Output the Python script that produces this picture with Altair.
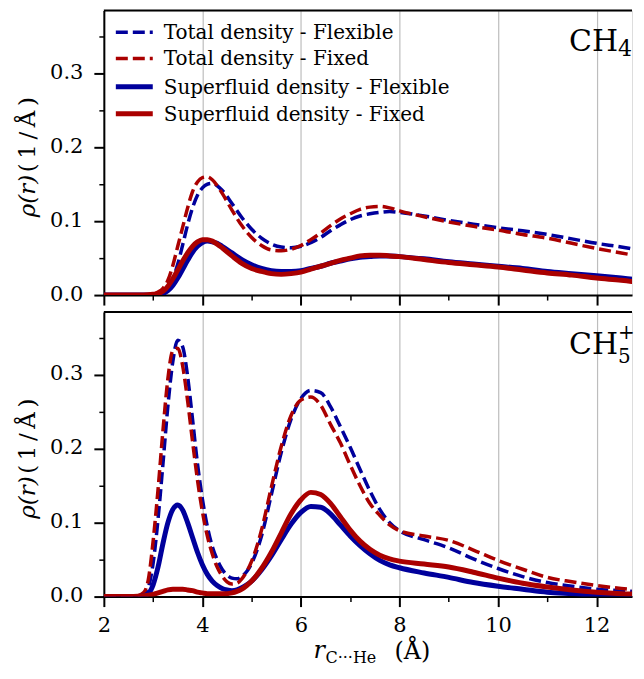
import altair as alt
import pandas as pd

# ---------------- data ----------------
x_ch4 = [2.0, 2.8, 3.0, 3.1, 3.2, 3.3, 3.4, 3.5, 3.6, 3.7, 3.8, 3.9, 4.0, 4.1, 4.2, 4.3, 4.4,
         4.6, 4.8, 5.0, 5.2, 5.4, 5.6, 5.8, 6.0, 6.2, 6.4, 6.6, 6.8, 7.0, 7.2, 7.4, 7.6, 7.8,
         8.0, 8.5, 9.0, 9.5, 10.0, 10.5, 11.0, 11.5, 12.0, 12.5, 13.0]
tot_flex_ch4 = [0, 0, 0, 0.001, 0.004, 0.010, 0.022, 0.042, 0.068, 0.095, 0.118, 0.135, 0.145,
                0.150, 0.151, 0.148, 0.142, 0.124, 0.105, 0.089, 0.077, 0.069, 0.065, 0.064,
                0.066, 0.071, 0.078, 0.087, 0.095, 0.102, 0.107, 0.110, 0.112, 0.113, 0.112,
                0.107, 0.101, 0.096, 0.091, 0.087, 0.082, 0.076, 0.070, 0.065, 0.059]
tot_fix_ch4 = [0, 0, 0.001, 0.004, 0.009, 0.020, 0.040, 0.066, 0.092, 0.118, 0.140, 0.153, 0.159,
               0.160, 0.156, 0.148, 0.138, 0.115, 0.094, 0.078, 0.067, 0.061, 0.060, 0.062,
               0.067, 0.075, 0.084, 0.094, 0.103, 0.110, 0.116, 0.119, 0.120, 0.118, 0.114,
               0.106, 0.099, 0.093, 0.088, 0.082, 0.077, 0.070, 0.063, 0.057, 0.051]
sf_flex_ch4 = [0, 0, 0, 0.0, 0.002, 0.006, 0.013, 0.023, 0.035, 0.047, 0.058, 0.066, 0.071,
               0.073, 0.072, 0.070, 0.066, 0.057, 0.048, 0.041, 0.036, 0.033, 0.032, 0.032,
               0.033, 0.036, 0.039, 0.043, 0.046, 0.049, 0.051, 0.052, 0.053, 0.053, 0.052,
               0.049, 0.045, 0.042, 0.039, 0.036, 0.032, 0.029, 0.026, 0.023, 0.020]
sf_fix_ch4 = [0, 0, 0.001, 0.002, 0.005, 0.012, 0.022, 0.034, 0.046, 0.057, 0.066, 0.072, 0.075,
              0.075, 0.073, 0.069, 0.064, 0.053, 0.043, 0.036, 0.032, 0.029, 0.028, 0.029,
              0.031, 0.035, 0.039, 0.043, 0.047, 0.050, 0.053, 0.054, 0.054, 0.053, 0.052,
              0.048, 0.044, 0.041, 0.038, 0.034, 0.030, 0.027, 0.023, 0.020, 0.016]

x_ch5 = [2.0, 2.6, 2.8, 2.9, 3.0, 3.1, 3.2, 3.3, 3.4, 3.5, 3.6, 3.7, 3.8, 3.9, 4.0, 4.1, 4.2,
         4.3, 4.4, 4.5, 4.6, 4.7, 4.8, 4.9, 5.0, 5.2, 5.4, 5.6, 5.8, 6.0, 6.2, 6.4, 6.6, 6.8,
         7.0, 7.2, 7.4, 7.6, 7.8, 8.0, 8.5, 9.0, 9.5, 10.0, 10.5, 11.0, 11.5, 12.0, 12.5, 13.0]
tot_flex_ch5 = [0, 0, 0.003, 0.012, 0.045, 0.105, 0.180, 0.258, 0.318, 0.347, 0.338, 0.298,
                0.240, 0.180, 0.132, 0.095, 0.068, 0.050, 0.037, 0.029, 0.025, 0.024, 0.027,
                0.034, 0.045, 0.082, 0.138, 0.195, 0.240, 0.268, 0.279, 0.276, 0.257, 0.230,
                0.202, 0.172, 0.143, 0.118, 0.100, 0.089, 0.077, 0.066, 0.051, 0.038, 0.027,
                0.019, 0.014, 0.010, 0.008, 0.006]
tot_fix_ch5 = [0, 0, 0.005, 0.022, 0.075, 0.145, 0.225, 0.295, 0.333, 0.336, 0.312, 0.265,
               0.210, 0.158, 0.115, 0.082, 0.058, 0.040, 0.028, 0.020, 0.017, 0.018, 0.024,
               0.034, 0.048, 0.090, 0.148, 0.203, 0.245, 0.266, 0.270, 0.259, 0.233, 0.208,
               0.178, 0.150, 0.126, 0.110, 0.097, 0.089, 0.082, 0.076, 0.063, 0.049, 0.037,
               0.026, 0.020, 0.015, 0.011, 0.008]
sf_flex_ch5 = [0, 0, 0.001, 0.004, 0.016, 0.040, 0.072, 0.100, 0.118, 0.124, 0.117, 0.100,
               0.080, 0.060, 0.043, 0.030, 0.021, 0.015, 0.011, 0.009, 0.008, 0.009, 0.012,
               0.016, 0.021, 0.036, 0.055, 0.077, 0.098, 0.114, 0.122, 0.121, 0.112, 0.097,
               0.082, 0.069, 0.058, 0.049, 0.043, 0.039, 0.032, 0.026, 0.019, 0.014, 0.010,
               0.006, 0.004, 0.002, 0.001, 0.001]
sf_fix_ch5 = [0, 0, 0.001, 0.002, 0.003, 0.005, 0.007, 0.009, 0.010, 0.010, 0.010, 0.009,
              0.008, 0.006, 0.005, 0.004, 0.004, 0.004, 0.004, 0.004, 0.005, 0.007, 0.010,
              0.015, 0.021, 0.038, 0.060, 0.086, 0.112, 0.131, 0.141, 0.138, 0.126, 0.108,
              0.090, 0.075, 0.064, 0.056, 0.051, 0.048, 0.044, 0.040, 0.033, 0.025, 0.018,
              0.013, 0.009, 0.006, 0.004, 0.003]

series_names = ["Total density - Flexible", "Total density - Fixed",
                "Superfluid density - Flexible", "Superfluid density - Fixed"]
x_major = [2, 4, 6, 8, 10, 12]
x_minor = [3, 5, 7, 9, 11]
y_major = [0.0, 0.1, 0.2, 0.3]
y_minor = [0.05, 0.15, 0.25, 0.35]

# ---------------- style ----------------
BLUE = "#00009c"
RED = "#aa0000"
colors = [BLUE, RED, BLUE, RED]
dashes = [[12, 5], [12, 5], None, None]
widths = [3.5, 3.5, 5, 5]
FONT = "DejaVu Serif"

W, H = 529, 285
PX_PER_UNIT = 49.35
XMAX = 2 + W / PX_PER_UNIT
xscale = alt.Scale(domain=[2, XMAX], nice=False, zero=False)
yscale = alt.Scale(domain=[0, 0.385], nice=False, zero=False)


def x_axis(labels):
    return alt.Axis(values=x_major, orient="bottom", labels=labels, ticks=True, tickSize=10,
                    tickWidth=2, tickColor="black", domain=True, domainColor="black",
                    domainWidth=2, grid=True, gridColor="#bdbdbd", gridWidth=1.2, title=None,
                    labelFont=FONT, labelFontSize=21, labelColor="black", labelPadding=8,
                    labelFlush=False, labelOverlap=False)


y_axis = alt.Axis(values=y_major, orient="left", format=".1f", ticks=True, tickSize=10,
                  tickWidth=2, tickColor="black", domain=True, domainColor="black",
                  domainWidth=2, grid=False, title=None, labelFont=FONT, labelFontSize=21,
                  labelColor="black", labelPadding=11, labelFlush=False, labelOffset=-1,
                  minExtent=54, maxExtent=54)

x_minor_axis = alt.Axis(values=x_minor, orient="bottom", labels=False, ticks=True,
                        tickSize=5, tickWidth=1.5, tickColor="black", domain=False,
                        grid=False, title=None)
y_minor_axis = alt.Axis(values=y_minor, orient="left", labels=False, ticks=True,
                        tickSize=5, tickWidth=1.5, tickColor="black", domain=False,
                        grid=False, title=None, minExtent=5, maxExtent=5)

one = alt.Data(values=[{}])


def text_at(txt, x, y, size, style="normal", align="left", baseline="alphabetic", angle=0):
    kw = dict(font=FONT, fontSize=size, fontStyle=style, align=align, baseline=baseline,
              color="black")
    if angle:
        kw["angle"] = angle
    return alt.Chart(one).mark_text(**kw).encode(
        x=alt.value(x), y=alt.value(y), text=alt.value(txt))


def panel(xs, ys_list, show_labels, extra):
    layers = []
    for i, (ys, c, d, w) in enumerate(zip(ys_list, colors, dashes, widths)):
        df = pd.DataFrame({"x": xs, "y": ys})
        mk = dict(color=c, strokeWidth=w, clip=True, interpolate="monotone")
        if d:
            mk["strokeDash"] = d
        if i == 0:
            X = alt.X("x:Q", scale=xscale, axis=x_axis(show_labels))
            Y = alt.Y("y:Q", scale=yscale, axis=y_axis)
        else:
            X = alt.X("x:Q", scale=xscale, axis=None)
            Y = alt.Y("y:Q", scale=yscale, axis=None)
        layers.append(alt.Chart(df).mark_line(**mk).encode(x=X, y=Y))
    # minor ticks as extra axes on the shared scales
    layers.append(alt.Chart(pd.DataFrame({"x": x_minor})).mark_point(opacity=0).encode(
        x=alt.X("x:Q", scale=xscale, axis=x_minor_axis)))
    layers.append(alt.Chart(pd.DataFrame({"y": y_minor})).mark_point(opacity=0).encode(
        y=alt.Y("y:Q", scale=yscale, axis=y_minor_axis)))
    # top spine
    layers.append(alt.Chart(one).mark_rule(color="black", strokeWidth=2).encode(
        x=alt.value(0), x2=alt.value(W), y=alt.value(0)))
    # y title
    layers.append(text_at("ρ(r)", -69, 207, 23, style="italic", angle=270))
    layers.append(text_at("(\u20091\u2009/\u2009Å\u2009)", -69, 162, 23, angle=270))
    layers += extra
    return alt.layer(*layers).resolve_axis(x="independent", y="independent").properties(
        width=W, height=H)


# legend in the top panel
legend_rows = [21.7, 48.0, 76.4, 103.4]
legend_layers = []
for name, c, d, w, ry in zip(series_names, colors, dashes, widths, legend_rows):
    mk = dict(color=c, strokeWidth=w)
    if d:
        mk["strokeDash"] = d
    legend_layers.append(alt.Chart(one).mark_rule(**mk).encode(
        x=alt.value(12), x2=alt.value(49), y=alt.value(ry)))
    legend_layers.append(text_at(name, 60, ry + 6.8, 20))

top_extra = legend_layers + [
    text_at("CH", 466, 41, 30),
    text_at("4", 515, 46, 22),
]
bottom_extra = [
    text_at("CH", 466, 42, 30),
    text_at("5", 515, 51, 20),
    text_at("+", 515, 21, 20, baseline="middle"),
    # x title
    text_at("r", 210, 347, 24, style="italic"),
    text_at("C···He", 222, 352, 16),
    text_at("(Å)", 291, 348, 24),
]

top = panel(x_ch4, [tot_flex_ch4, tot_fix_ch4, sf_flex_ch4, sf_fix_ch4], False, top_extra)
bottom = panel(x_ch5, [tot_flex_ch5, tot_fix_ch5, sf_flex_ch5, sf_fix_ch5], True, bottom_extra)

chart = alt.vconcat(top, bottom, spacing=17, bounds="flush").properties(
    padding={"left": 8, "top": 0, "right": 0, "bottom": 0}
).configure_view(stroke=None).configure(font=FONT, background="white")

chart.save("out.html", embed_options={"renderer": "svg", "actions": False})
